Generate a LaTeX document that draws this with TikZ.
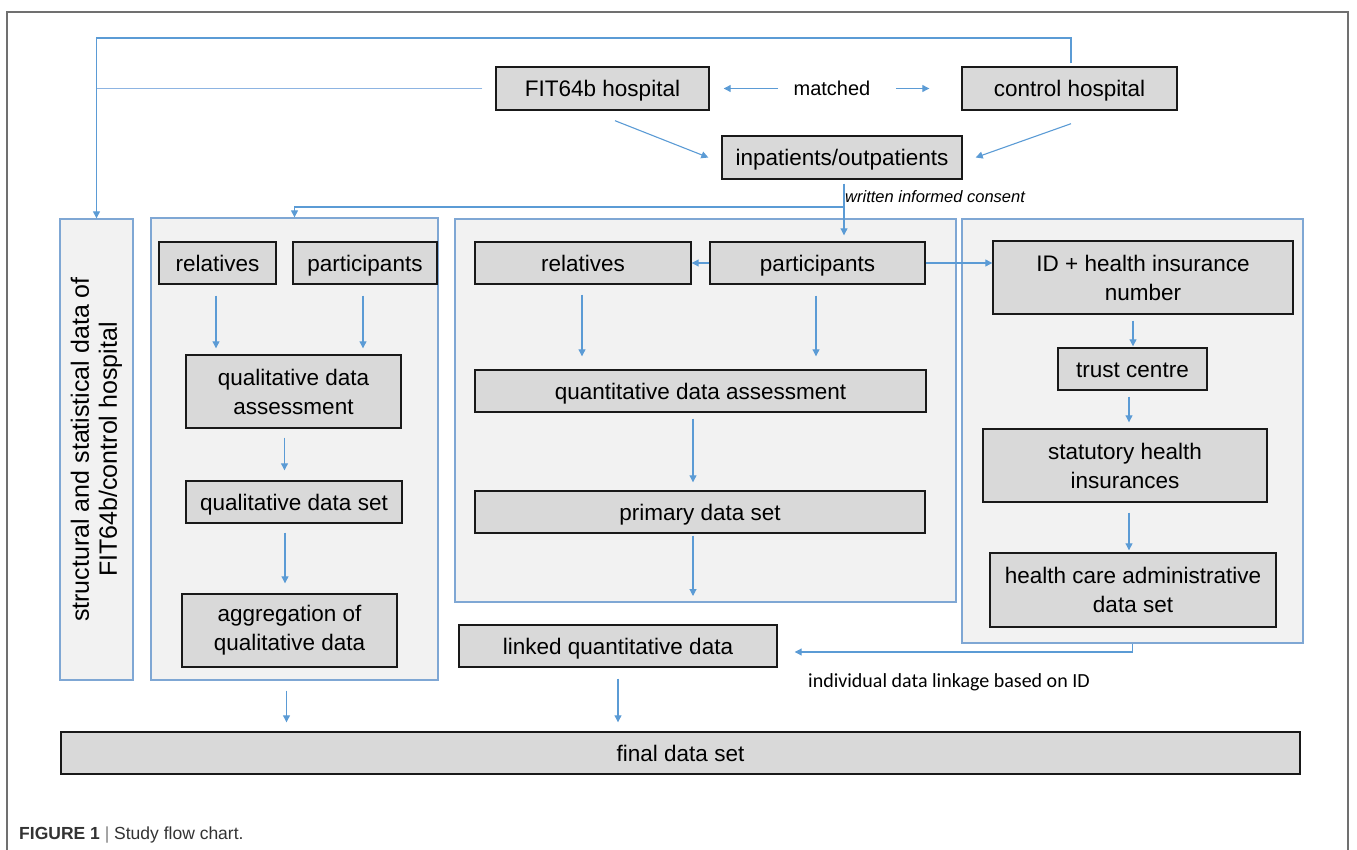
\documentclass[tikz,border=0pt]{standalone}
\usepackage{fontspec}
\setmainfont{Liberation Sans}
\newfontfamily\calfont{Carlito}
\usetikzlibrary{arrows.meta,calc}
\definecolor{arrblue}{HTML}{5B9BD5}
\definecolor{lineblue}{HTML}{8DB4E2}
\definecolor{contblue}{HTML}{7FA7D4}
\definecolor{boxgray}{HTML}{D9D9D9}
\definecolor{contgray}{HTML}{F2F2F2}
\definecolor{framegray}{HTML}{707070}
\definecolor{capgray}{HTML}{333333}
\newcommand\bxfnt{\fontsize{22.5}{29}\selectfont}
\newcommand\vtfnt{\fontsize{25}{28}\selectfont}
\begin{document}
\begin{tikzpicture}[x=1pt,y=-1pt,
  box/.style={draw=black!90, line width=1.4pt, fill=boxgray, inner sep=0pt, align=center, font=\bxfnt},
  one/.style={text height=21.5pt, text depth=5pt},
  cont/.style={draw=contblue, line width=1.3pt, fill=contgray, inner sep=0pt},
  arr/.style={draw=arrblue, line width=1.1pt, -{Triangle[length=7pt,width=7pt]}},
  ln/.style={draw=lineblue, line width=1.1pt}]
\useasboundingbox (0,0) rectangle (1357,850);
\draw[framegray, line width=1.2pt] (7,870) -- (7,12) -- (1348,12) -- (1348,870);

% containers
\node[cont, minimum width=73pt, minimum height=461pt] (leftbox) at (96.5,449.5) {};
\node[rotate=90, align=center, font=\vtfnt] (lefttxt) at (leftbox.center) {structural and statistical data of\\FIT64b/control hospital};
\node[cont, minimum width=287pt, minimum height=462pt] (qualcont) at (294.5,449) {};
\node[cont, minimum width=501pt, minimum height=383pt] (midcont) at (705.5,410.5) {};
\node[cont, minimum width=341pt, minimum height=424pt] (rightcont) at (1132.5,431) {};

% boxes
\node[box, one, minimum width=213pt, minimum height=43pt] (fit) at (602.5,88.5) {FIT64b hospital};
\node[box, one, minimum width=215pt, minimum height=43pt] (ctrl) at (1069.5,88.5) {control hospital};
\node[box, one, minimum width=240pt, minimum height=43pt] (inpat) at (842,157.5) {inpatients/outpatients};
\node[box, one, minimum width=117pt, minimum height=42pt] (rel1) at (217.5,263) {relatives};
\node[box, one, minimum width=144pt, minimum height=42pt] (part1) at (365,263) {participants};
\node[box, minimum width=215pt, minimum height=73pt] (qda) at (293.5,391.5) {qualitative data\\assessment};
\node[box, one, minimum width=216pt, minimum height=42pt] (qds) at (294,502) {qualitative data set};
\node[box, minimum width=215pt, minimum height=73pt] (agg) at (289.5,630.5) {aggregation of\\qualitative data};
\node[box, one, minimum width=216pt, minimum height=42pt] (rel2) at (583,263) {relatives};
\node[box, one, minimum width=215pt, minimum height=42pt] (part2) at (817.5,263) {participants};
\node[box, one, minimum width=451pt, minimum height=42pt] (quant) at (700.5,391) {quantitative data assessment};
\node[box, one, minimum width=450pt, minimum height=42pt] (prim) at (700,512) {primary data set};
\node[box, minimum width=300pt, minimum height=73pt] (idb) at (1143,277.5) {ID + health insurance\\number};
\node[box, one, minimum width=149pt, minimum height=42pt] (trust) at (1132.5,369) {trust centre};
\node[box, minimum width=284pt, minimum height=73pt] (stat) at (1125,465.5) {statutory health\\insurances};
\node[box, minimum width=286pt, minimum height=74pt] (hcad) at (1133,590) {health care administrative\\data set};
\node[box, one, minimum width=318pt, minimum height=42pt] (linked) at (618,646) {linked quantitative data};
\node[box, one, minimum width=1239pt, minimum height=42pt] (final) at (680.5,753) {final data set};

% labels
\node[font=\fontsize{20}{24}\selectfont] (matched) at (832,88.5) {matched};
\node[anchor=west, inner sep=0pt, font=\fontsize{16.5}{19}\selectfont\itshape] (consent) at (845,197) {written informed consent};
\node[anchor=west, inner sep=0pt, font=\calfont\fontsize{20}{24}\selectfont] (linktxt) at (808,682) {individual data linkage based on ID};
\node[anchor=base west, inner sep=0pt, font=\fontsize{17.5}{20}\selectfont, text=capgray] (caption) at (19,839) {\textbf{FIGURE 1} {\color{gray}|} Study flow chart.};

% top connectors
\coordinate (tl) at (96.5,38);
\draw[arr] ($(ctrl.north)+(1.5,-3)$) |- (tl) -- (leftbox.north);
\draw[ln] ($(fit.west)+(-13,0)$) -- (fit.west -| tl);
\draw[arr] ($(matched.west)+(-12,0)$) -- ($(fit.east)+(14,0)$);
\draw[arr] ($(matched.east)+(22,0)$) -- ($(ctrl.west)+(-32,0)$);
\draw[arr] ($(fit.south)+(12.5,10)$) -- ($(inpat.west)+(-13,0)$);
\draw[arr] ($(ctrl.south)+(1.5,13)$) -- ($(inpat.east)+(13,0)$);
\draw[arr] ($(inpat.south)+(2,4)$) -- ($(inpat.south |- part2.north)+(2,-6)$);
\coordinate (cj) at (844,207);
\draw[arr] (cj) -| (qualcont.north);

% qualitative column
\draw[arr] ($(rel1.south)+(-1.5,11)$) -- ($(rel1.south |- qda.north)+(-1.5,-6)$);
\draw[arr] ($(part1.south)+(-2,11)$) -- ($(part1.south |- qda.north)+(-2,-6)$);
\draw[arr] ($(qda.south)+(-9,9)$) -- ($(qda.south |- qds.north)+(-9,-10)$);
\draw[arr] ($(qds.south)+(-9,9)$) -- ($(qds.south |- agg.north)+(-9,-10)$);
\draw[arr] ($(qualcont.south)+(-8,10)$) -- ($(qualcont.south |- final.north)+(-8,-9)$);

% quantitative column
\draw[arr] (part2.west) -- (rel2.east);
\draw[arr] ($(rel2.south)+(-1,10)$) -- ($(rel2.south |- quant.north)+(-1,-13)$);
\draw[arr] ($(part2.south)+(-1.5,11)$) -- ($(part2.south |- quant.north)+(-1.5,-13)$);
\draw[arr] ($(quant.south)+(-7.5,6)$) -- ($(quant.south |- prim.north)+(-7.5,-8)$);
\coordinate (pe) at (693,596);
\draw[arr] ($(prim.south)+(-7,2)$) -- (pe);
\draw[arr] (part2.east) -- (idb.west |- part2.east);

% administrative column
\draw[arr] ($(idb.south)+(-10,6)$) -- ($(idb.south |- trust.north)+(-10,-1)$);
\draw[arr] ($(trust.south)+(-3.5,6)$) -- ($(trust.south |- stat.north)+(-3.5,-6)$);
\draw[arr] ($(stat.south)+(4,10)$) -- ($(stat.south |- hcad.north)+(4,-2)$);
\coordinate (lk) at (1133,652);
\draw[arr] (rightcont.south) |- ($(linked.east |- lk)+(17,0)$);
\draw[arr] ($(linked.south)+(0,11)$) -- ($(linked.south |- final.north)+(0,-9)$);
\end{tikzpicture}
\end{document}
